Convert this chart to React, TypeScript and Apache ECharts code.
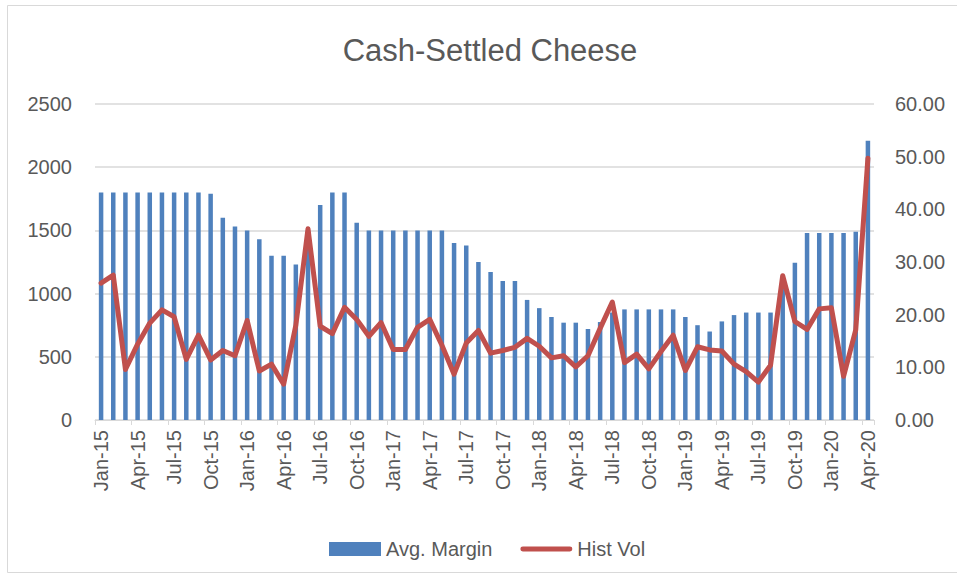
import React, { useEffect, useRef } from "react";
import * as echarts from "echarts";

const categories = [
  "Jan-15","Feb-15","Mar-15","Apr-15","May-15","Jun-15","Jul-15","Aug-15","Sep-15","Oct-15","Nov-15","Dec-15",
  "Jan-16","Feb-16","Mar-16","Apr-16","May-16","Jun-16","Jul-16","Aug-16","Sep-16","Oct-16","Nov-16","Dec-16",
  "Jan-17","Feb-17","Mar-17","Apr-17","May-17","Jun-17","Jul-17","Aug-17","Sep-17","Oct-17","Nov-17","Dec-17",
  "Jan-18","Feb-18","Mar-18","Apr-18","May-18","Jun-18","Jul-18","Aug-18","Sep-18","Oct-18","Nov-18","Dec-18",
  "Jan-19","Feb-19","Mar-19","Apr-19","May-19","Jun-19","Jul-19","Aug-19","Sep-19","Oct-19","Nov-19","Dec-19",
  "Jan-20","Feb-20","Mar-20","Apr-20",
];

const avgMargin = [
  1800, 1800, 1800, 1800, 1800, 1800, 1800, 1800, 1800, 1790, 1600, 1530,
  1500, 1430, 1300, 1300, 1230, 1500, 1700, 1800, 1800, 1560, 1500, 1500,
  1500, 1500, 1500, 1500, 1500, 1400, 1380, 1250, 1170, 1100, 1100, 950,
  885, 815, 770, 770, 720, 775, 850, 875, 875, 875, 875, 875,
  815, 750, 700, 780, 830, 850, 850, 850, 1100, 1245, 1480, 1480,
  1480, 1480, 1490, 2210,
];

const histVol = [
  26.0, 27.5, 9.6, 14.4, 18.4, 20.9, 19.6, 11.5, 16.1, 11.4, 13.2, 12.2,
  18.9, 9.3, 10.6, 6.8, 18.0, 36.3, 17.8, 16.4, 21.4, 19.1, 15.9, 18.5,
  13.4, 13.4, 17.6, 19.1, 14.2, 8.7, 14.6, 17.0, 12.7, 13.2, 13.8, 15.5,
  14.0, 11.8, 12.2, 10.1, 12.2, 17.4, 22.4, 10.9, 12.5, 9.7, 13.0, 16.1,
  9.4, 13.9, 13.3, 13.1, 10.6, 9.2, 7.2, 10.4, 27.4, 18.7, 17.2, 21.1,
  21.3, 8.3, 17.1, 49.7,
];

const leftTicks = { min: 0, max: 2500, interval: 500 };
const rightTicks = { min: 0, max: 60, interval: 10 };

const FONT = "Liberation Sans, Arial, sans-serif";
const TEXT = "#595959";
const GRID = "#d9d9d9";

export default function App() {
  const ref = useRef<HTMLDivElement>(null);
  useEffect(() => {
    if (!ref.current) return;
    const chart = echarts.init(ref.current, undefined, { renderer: "svg" });
    chart.setOption({
      animation: false,
      backgroundColor: "#ffffff",
      textStyle: { fontFamily: FONT, color: TEXT },
      title: {
        text: "Cash-Settled Cheese",
        left: 485,
        textAlign: "center",
        top: 30,
        textStyle: { fontFamily: FONT, fontSize: 31, fontWeight: "normal", color: TEXT },
      },
      graphic: [
        {
          type: "rect",
          shape: { x: 7.5, y: 5.5, width: 1000, height: 567 },
          style: { fill: "none", stroke: GRID, lineWidth: 1 },
          silent: true,
        },
      ],
      grid: { left: 95, right: 83, top: 104, bottom: 158, containLabel: false },
      legend: {
        left: 324,
        top: 534,
        itemWidth: 52,
        itemHeight: 14,
        itemGap: 28,
        symbolKeepAspect: true,
        textStyle: { fontFamily: FONT, fontSize: 20, color: TEXT },
        data: [
          { name: "Avg. Margin", icon: "rect" },
          { name: "Hist Vol", icon: "path://M2,0 L50,0 A2.5,2.5 0 0 1 50,5 L2,5 A2.5,2.5 0 0 1 2,0 Z" },
        ],
      },
      xAxis: {
        type: "category",
        data: categories,
        boundaryGap: true,
        axisLine: { lineStyle: { color: GRID, width: 1 } },
        axisTick: { show: true, interval: 2, length: 5, lineStyle: { color: GRID } },
        axisLabel: {
          interval: 2,
          rotate: 90,
          margin: 10,
          fontFamily: FONT,
          fontSize: 20,
          color: TEXT,
        },
      },
      yAxis: [
        {
          type: "value",
          min: leftTicks.min,
          max: leftTicks.max,
          interval: leftTicks.interval,
          axisLine: { show: false },
          axisTick: { show: false },
          splitLine: { lineStyle: { color: GRID, width: 1.5 } },
          axisLabel: {
            fontFamily: FONT,
            fontSize: 20,
            color: TEXT,
            margin: 23,
            formatter: (v: number) => String(v),
          },
        },
        {
          type: "value",
          min: rightTicks.min,
          max: rightTicks.max,
          interval: rightTicks.interval,
          axisLine: { show: false },
          axisTick: { show: false },
          splitLine: { show: false },
          axisLabel: {
            fontFamily: FONT,
            fontSize: 20,
            color: TEXT,
            margin: 21,
            formatter: (v: number) => v.toFixed(2),
          },
        },
      ],
      series: [
        {
          name: "Avg. Margin",
          type: "bar",
          data: avgMargin,
          yAxisIndex: 0,
          barWidth: 4.5,
          itemStyle: { color: "#4F81BD" },
        },
        {
          name: "Hist Vol",
          type: "line",
          data: histVol,
          yAxisIndex: 1,
          symbol: "none",
          showSymbol: false,
          lineStyle: { color: "#C0504D", width: 5, cap: "round", join: "round" },
          itemStyle: { color: "#C0504D" },
        },
      ],
    });
    return () => chart.dispose();
  }, []);
  return (
    <div
      ref={ref}
      style={{ position: "fixed", left: 0, top: 0, width: 957, height: 578 }}
    />
  );
}
